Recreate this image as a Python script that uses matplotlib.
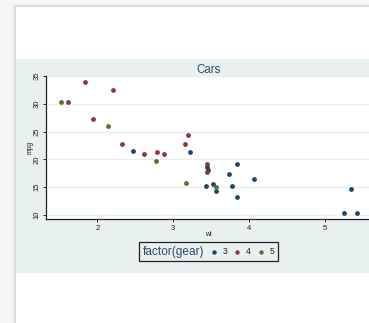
import matplotlib
matplotlib.use("Agg")
import matplotlib.pyplot as plt
from matplotlib.patches import Rectangle
from matplotlib.lines import Line2D
from matplotlib.offsetbox import HPacker, TextArea, DrawingArea, AnchoredOffsetbox

plt.rcParams['font.family'] = ['Liberation Sans', 'DejaVu Sans']

# --- data (wt vs mpg, by gear) ---
wt = [2.620, 2.875, 2.320, 3.215, 3.440, 3.460, 3.570, 3.190, 3.150, 3.440,
      3.440, 4.070, 3.730, 3.780, 5.250, 5.424, 5.345, 2.200, 1.615, 1.835,
      2.465, 3.520, 3.435, 3.840, 3.845, 1.935, 2.140, 1.513, 3.170, 2.770,
      3.570, 2.780]
mpg = [21.0, 21.0, 22.8, 21.4, 18.7, 18.1, 14.3, 24.4, 22.8, 19.2,
       17.8, 16.4, 17.3, 15.2, 10.4, 10.4, 14.7, 32.4, 30.4, 33.9,
       21.5, 15.5, 15.2, 13.3, 19.2, 27.3, 26.0, 30.4, 15.8, 19.7,
       15.0, 21.4]
gear = [4, 4, 4, 3, 3, 3, 3, 4, 4, 4,
        4, 3, 3, 3, 3, 3, 3, 4, 4, 4,
        3, 3, 3, 3, 3, 4, 5, 5, 5, 5,
        5, 4]
gear_levels = [3, 4, 5]
gear_colors = {3: '#1a476f', 4: '#90353b', 5: '#55752f'}
x_ticks = [2, 3, 4, 5]
y_ticks = [10, 15, 20, 25, 30, 35]

W, H = 369, 323
fig = plt.figure(figsize=(W / 100, H / 100), dpi=100)
fig.patch.set_facecolor('#f6f6f6')


def px_rect(x0, y0, x1, y1, **kw):
    # rectangle given in pixel coords measured from the top-left corner
    r = Rectangle((x0 / W, 1 - y1 / H), (x1 - x0) / W, (y1 - y0) / H,
                  transform=fig.transFigure, zorder=-10, **kw)
    fig.patches.append(r)


# card with a soft shadow
for i, a in enumerate([0.03, 0.04, 0.05]):
    d = 3 - i
    px_rect(15.5 - d, 7 - d, W + 5, H + 5, facecolor='black', alpha=a,
            edgecolor='none')
px_rect(15.5, 7, W + 5, H + 5, facecolor='white', edgecolor='none')
# stata plot background
px_rect(15.5, 59, W + 5, 273, facecolor='#e9f0f0', edgecolor='none')

# axes (the panel runs past the right edge, like in the screenshot)
left, right, top, bottom = 45.7, 371.8, 75.6, 219.3
ax = fig.add_axes([left / W, 1 - bottom / H, (right - left) / W, (bottom - top) / H])
ax.set_facecolor('white')

for g in gear_levels:
    xs = [w for w, k in zip(wt, gear) if k == g]
    ys = [m for m, k in zip(mpg, gear) if k == g]
    ax.scatter(xs, ys, s=12, color=gear_colors[g], linewidths=0, zorder=3)

xmin, xmax = min(wt), max(wt)
ymin, ymax = min(mpg), max(mpg)
ax.set_xlim(xmin - 0.05 * (xmax - xmin), xmax + 0.05 * (xmax - xmin))
ax.set_ylim(ymin - 0.05 * (ymax - ymin), ymax + 0.05 * (ymax - ymin))
ax.set_xticks(x_ticks)
ax.set_yticks(y_ticks)
ax.set_yticklabels([str(v) for v in y_ticks], rotation=90, va='center')
ax.tick_params(axis='both', length=2.3, width=0.7, labelsize=5.5, pad=1.5,
               colors='#222222')
ax.grid(axis='y', color='#e6eeee', linewidth=1.0)
ax.set_axisbelow(True)
for s in ['top', 'right']:
    ax.spines[s].set_visible(False)
for s in ['left', 'bottom']:
    ax.spines[s].set_linewidth(0.9)
    ax.spines[s].set_color('#222222')

ax.set_title('Cars', fontsize=8.3, color='#34466e', pad=0.5)
ax.set_xlabel('wt', fontsize=4.8, color='#222222')
ax.set_ylabel('mpg', fontsize=4.8, color='#222222')
ax.xaxis.set_label_coords(0.5, -0.078)
ax.yaxis.set_label_coords(-0.036, 0.5)

# legend laid out in one row, title on the left
items = [TextArea('factor(gear)', textprops=dict(size=8.6, color='#34466e'))]
for g in gear_levels:
    da = DrawingArea(4, 4)
    da.add_artist(Line2D([2], [2], marker='o', ms=3.2, color=gear_colors[g],
                         ls='', mew=0))
    lab = TextArea(str(g), textprops=dict(size=6.2, color='#222222'))
    items.append(HPacker(children=[da, lab], sep=4.4, align='center'))
box = HPacker(children=items, sep=5.0, pad=0, align='center')
leg = AnchoredOffsetbox(loc='center', child=box, pad=0.45, borderpad=0,
                        bbox_to_anchor=(208.5 / W, 1 - 251.5 / H),
                        bbox_transform=fig.transFigure, frameon=True,
                        prop=dict(size=6))
leg.patch.set_edgecolor('#222222')
leg.patch.set_facecolor('#e9f0f0')
leg.patch.set_linewidth(0.9)
leg.patch.set_boxstyle('square', pad=0)
fig.add_artist(leg)

fig.savefig('out.png', dpi=100, facecolor=fig.get_facecolor())
